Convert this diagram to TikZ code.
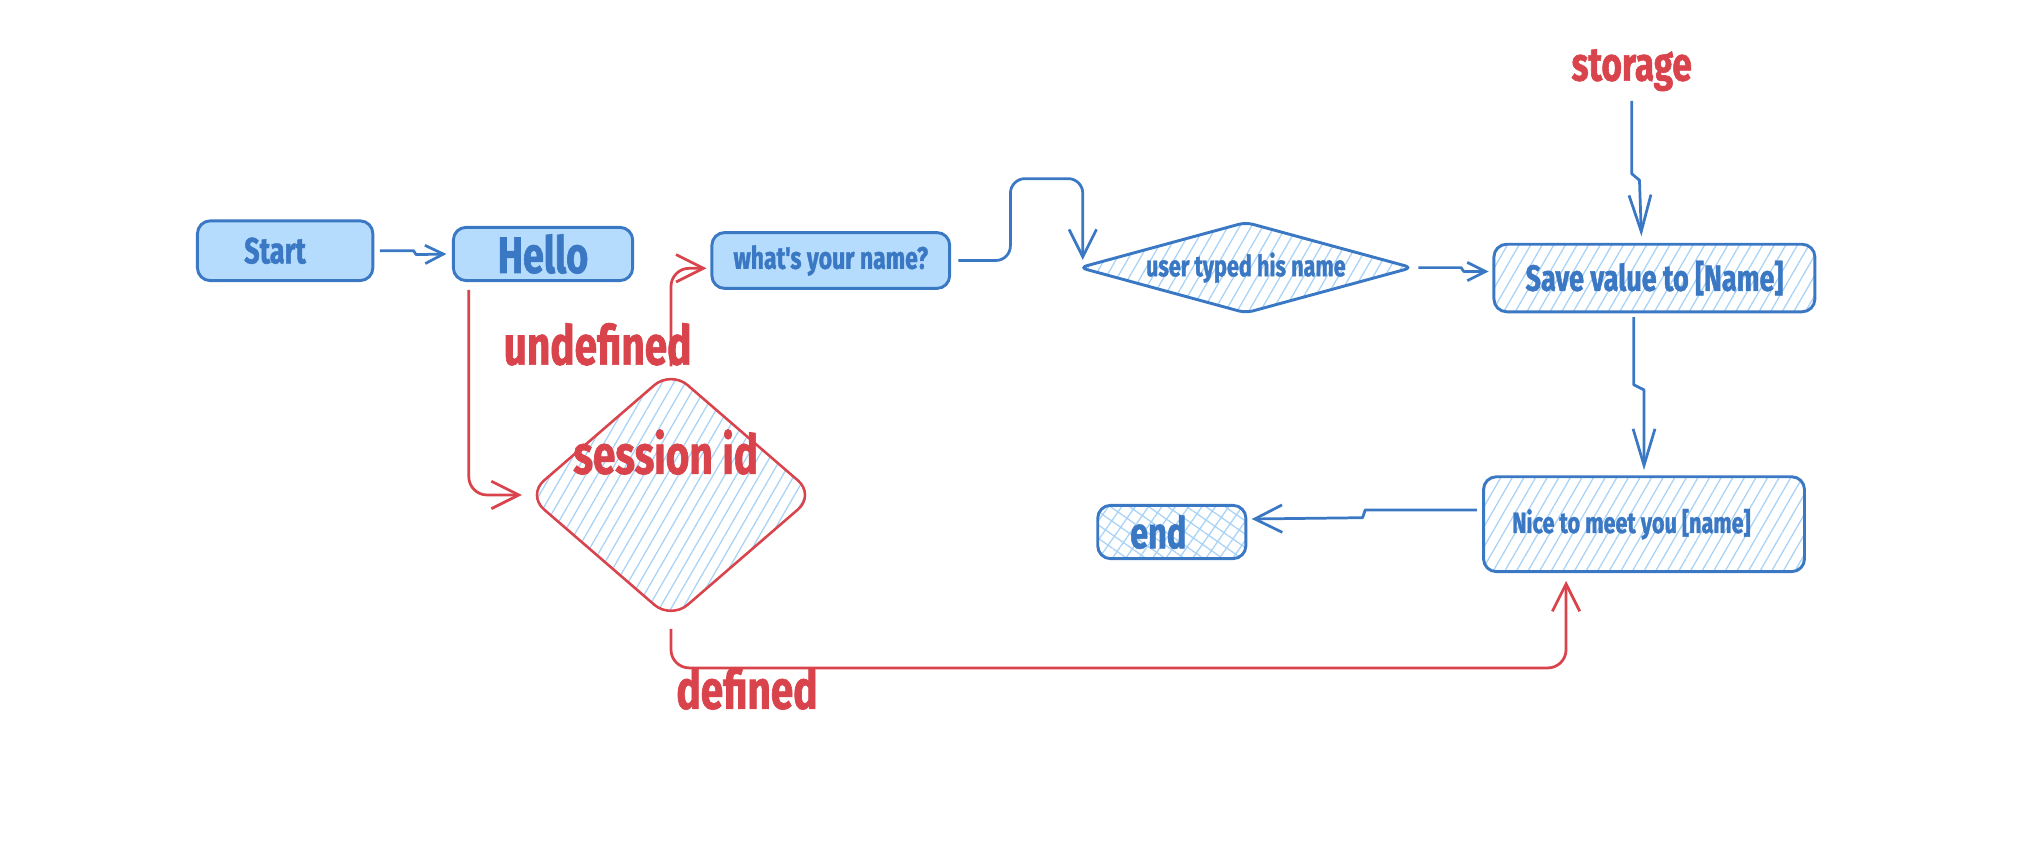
\documentclass[tikz,border=0pt]{standalone}
\usepackage{fontspec}
\usepackage{xcolor}
\usetikzlibrary{shapes.geometric,arrows.meta,patterns.meta,calc}
\newfontfamily\handfont[FakeStretch=0.74,BoldFeatures={FakeBold=1.2}]{Fira Sans}
\definecolor{inkblue}{HTML}{3b78c4}
\definecolor{paleblue}{HTML}{b6dcfd}
\definecolor{hatchblue}{HTML}{a8d3f7}
\definecolor{inkred}{HTML}{d9434b}

\begin{document}
\begin{tikzpicture}[x=0.025cm,y=-0.025cm,very thick,
  box/.style={draw=inkblue,line width=1.6pt,rounded corners=7pt,text=inkblue,
    font=\handfont\bfseries},
  solidbox/.style={box,fill=paleblue},
  hatched/.style={box,pattern={Lines[angle=60,distance=5.5pt,line width=0.7pt]},
    pattern color=hatchblue},
  crossed/.style={box,pattern={Hatch[angle=55,distance=6pt,line width=0.7pt]},
    pattern color=hatchblue},
  bluetext/.style={text=inkblue,font=\handfont\bfseries\fontsize{16}{16}\selectfont},
  flow/.style={draw=inkblue,line width=1.5pt,line join=round},
  redflow/.style={draw=inkred,line width=1.5pt,rounded corners=10pt},
  barb/.style={-{Straight Barb[length=15pt,width=15pt]}},
  longbarb/.style={-{Straight Barb[length=20pt,width=12pt]}},
  tag/.style={text=inkred,font=\handfont\bfseries\fontsize{30}{30}\selectfont}]
\useasboundingbox (0,0) rectangle (1568,667);

\node[solidbox,minimum width=3.375cm,minimum height=1.15cm,inner xsep=0.9cm,
  text width=1.575cm,align=flush left,
  font=\handfont\bfseries\fontsize{20}{20}\selectfont] (start) at (219.5,193) {Start};
\node[solidbox,minimum width=3.45cm,minimum height=1.025cm,
  font=\handfont\bfseries\fontsize{28}{28}\selectfont] (hello) at (418,195.5) {Hello};
\node[solidbox,minimum width=4.575cm,minimum height=1.075cm,
  font=\handfont\bfseries\fontsize{17}{17}\selectfont] (ask) at (639.5,200.5) {what's your name?};
\node[hatched,diamond,rounded corners=4pt,minimum width=6.4cm,minimum height=1.75cm,
  label={[bluetext]center:user typed his name}] (typed) at (959,206) {};
\node[hatched,minimum width=6.175cm,minimum height=1.3cm,
  font=\handfont\bfseries\fontsize{20}{20}\selectfont] (save) at (1273.5,214) {Save value to [Name]};
\node[hatched,minimum height=1.825cm,inner xsep=0.55cm,text width=5.075cm,align=flush left,
  font=\handfont\bfseries\fontsize{16}{16}\selectfont] (nice) at (1265.5,403.5) {\mbox{Nice to meet you [name]}};
\node[crossed,minimum width=2.85cm,minimum height=1.025cm,inner xsep=0.62cm,
  text width=1.6cm,align=flush left,
  font=\handfont\bfseries\fontsize{24}{24}\selectfont] (finish) at (902,409.5) {end};
\node[diamond,draw=inkred,line width=1.4pt,rounded corners=12pt,minimum width=5.55cm,
  minimum height=4.8cm,pattern={Lines[angle=60,distance=5.5pt,line width=0.7pt]},
  pattern color=hatchblue,
  label={[tag,yshift=0.825cm,xshift=-0.1cm]center:session id}]
  (session) at (516.5,381) {};

\node[tag] (undef) at (460,265) {undefined};
\node[tag] (def) at (575,530) {defined};
\node[tag,font=\handfont\bfseries\fontsize{26}{26}\selectfont] (storage) at (1256,54) {storage};

\draw[flow,-{Straight Barb[length=10pt,width=10pt]}] ([xshift=3pt]start.east)
  -- ++(26,0) -- ++(2,3) -- ([xshift=-3pt]hello.west);
\draw[redflow,barb] ($(hello.south west)+(13,6)$) |- ([xshift=-2pt]session.west);
\draw[redflow,barb] ($(session.north)+(0,-2)$) |- ($(ask.west)+(-3,6)$);
\draw[flow,barb,rounded corners=8pt] ([xshift=4pt]ask.east)
  -| ++(40,-63) -| ($(typed.west)+(3,-6)$);
\draw[flow,-{Straight Barb[length=10pt,width=10pt]}] ([xshift=3pt]typed.east)
  -- ++(33,0) -- ++(2,3) -- ($(save.west)+(-3,-5)$);
\draw[flow,longbarb] ($(storage.south)+(0,2)$) -- ++(0,56) -- ++(6,5)
  -- ($(save.north)+(-10,-5)$);
\draw[flow,longbarb] ($(save.south)+(-16,3)$) -- ++(0,52) -- ++(8,4)
  -- ($(nice.north)+(0,-4)$);
\draw[flow,barb] ($(nice.west)+(-4,-11)$) -- ++(-86,0) -- ++(-2,6)
  -- ($(finish.east)+(4,-10)$);
\draw[redflow,barb] ($(session.south)+(0,6)$) |- ($(nice.south)+(-60,73)$)
  -- ($(nice.south)+(-60,6)$);
\end{tikzpicture}
\end{document}
